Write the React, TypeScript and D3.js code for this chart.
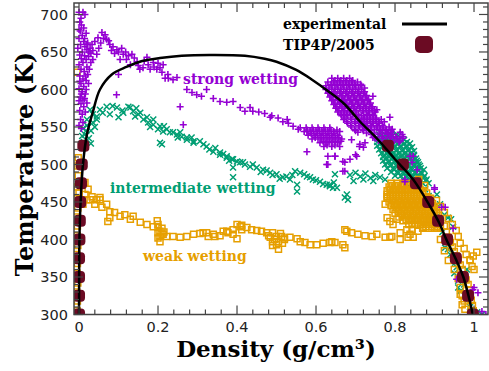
import React from "react";
import * as d3 from "d3";

type P = [number, number];

const xTickValues = [0, 0.2, 0.4, 0.6, 0.8, 1];
const xTickLabels = ["0", "0.2", "0.4", "0.6", "0.8", "1"];
const yTickValues = [300, 350, 400, 450, 500, 550, 600, 650, 700];
const yTickLabels = ["300", "350", "400", "450", "500", "550", "600", "650", "700"];

const experimental: P[] = [
  [0.0, 300], [0.0003, 350], [0.001, 400], [0.004, 450], [0.01, 500], [0.02, 540], [0.035, 570],
  [0.053, 600], [0.083, 620], [0.12, 630], [0.16, 638], [0.205, 642], [0.26, 645], [0.33, 646],
  [0.42, 645], [0.47, 641], [0.5, 637], [0.55, 626], [0.59, 613], [0.63, 598], [0.673, 580],
  [0.71, 558], [0.757, 533], [0.8, 507], [0.846, 480], [0.889, 444], [0.912, 422], [0.93, 400],
  [0.953, 375], [0.973, 350], [0.986, 325], [0.997, 300],
];

const tip4pVapor: P[] = [
  [0.0, 300], [0.0, 325], [0.0, 350], [0.0, 375], [0.001, 400], [0.002, 425], [0.003, 450],
  [0.005, 475], [0.007, 500], [0.011, 525],
];
const tip4pLiquid: P[] = [
  [0.997, 300], [0.985, 325], [0.972, 350], [0.954, 375], [0.932, 400], [0.909, 425],
  [0.884, 450], [0.853, 475], [0.82, 500], [0.782, 525],
];

const strongWetting: P[] = [
  [0.0, 703], [0.01, 703], [0.002, 690], [0.006, 686], [0.003, 678], [0.008, 672], [0.0, 668], [0.012, 664],
  [0.004, 660], [0.015, 657], [-0.003, 655], [0.02, 653], [0.008, 650], [0.025, 650], [0.002, 646], [0.014, 645],
  [0.03, 648], [0.006, 641], [0.018, 640], [0.01, 636], [0.0, 633], [0.02, 630], [0.005, 627], [0.013, 624],
  [0.022, 620], [0.002, 618], [0.01, 614], [0.018, 612], [0.005, 608], [0.012, 604], [0.0, 601], [0.008, 597],
  [0.016, 594], [0.003, 590], [0.01, 586], [0.005, 581], [0.012, 577], [0.002, 572], [0.008, 567], [0.004, 560],
  [0.0, 552],
  [0.015, 700], [0.005, 695], [0.012, 682], [0.018, 675], [0.0, 680], [0.014, 668], [0.022, 662], [0.028, 655],
  [0.035, 652], [0.024, 644], [0.03, 636], [0.026, 627], [0.016, 618], [0.024, 608], [0.002, 611], [0.018, 600],
  [0.006, 594], [0.014, 588], [0.02, 582], [0.0, 585], [0.016, 570], [0.01, 556], [0.006, 548],
  [0.02, 660], [0.033, 660], [0.04, 664], [0.048, 669], [0.058, 676], [0.066, 673], [0.07, 667], [0.035, 640],
  [0.045, 647], [0.078, 660], [0.086, 657], [0.096, 653], [0.104, 640], [0.112, 647], [0.12, 640], [0.13, 633],
  [0.134, 647], [0.147, 637], [0.154, 627], [0.162, 629], [0.18, 627], [0.188, 636], [0.197, 627], [0.205, 629],
  [0.213, 633], [0.172, 643], [0.1, 620], [0.095, 593], [0.256, 577], [0.264, 553],
  [0.05, 655], [0.055, 662], [0.062, 668], [0.075, 665], [0.082, 652], [0.09, 648], [0.1, 650], [0.108, 655],
  [0.118, 650], [0.125, 645], [0.14, 642], [0.15, 632], [0.165, 638], [0.175, 633], [0.19, 630], [0.2, 635],
  [0.21, 623], [0.225, 620],
  [0.218, 615], [0.226, 615], [0.238, 613], [0.248, 616], [0.273, 600], [0.286, 596], [0.298, 593], [0.31, 591],
  [0.323, 600], [0.34, 588], [0.357, 584], [0.374, 583], [0.39, 584], [0.408, 576], [0.42, 571], [0.433, 576],
  [0.44, 571], [0.455, 570], [0.47, 568], [0.484, 563], [0.488, 565], [0.504, 562], [0.516, 557], [0.527, 560],
  [0.53, 555], [0.542, 551], [0.555, 547], [0.56, 549], [0.577, 544],
  [0.575, 549], [0.59, 549], [0.605, 549], [0.62, 549], [0.635, 549],
  [0.57, 544], [0.585, 544], [0.6, 544], [0.615, 544], [0.63, 544], [0.645, 544], [0.66, 544],
  [0.58, 539], [0.595, 539], [0.61, 539], [0.625, 539], [0.64, 539], [0.655, 539],
  [0.59, 534], [0.605, 534], [0.62, 534], [0.635, 534], [0.65, 534], [0.665, 534],
  [0.61, 529], [0.625, 529], [0.64, 529], [0.655, 529],
  [0.62, 524], [0.64, 524], [0.66, 524],
  [0.578, 546], [0.593, 546], [0.608, 546], [0.623, 546], [0.638, 546], [0.653, 546],
  [0.588, 541], [0.603, 541], [0.618, 541], [0.633, 541], [0.648, 541],
  [0.598, 536], [0.613, 536], [0.628, 536], [0.643, 536], [0.658, 536],
  [0.618, 531], [0.633, 531], [0.648, 531], [0.663, 531],
  [0.628, 526], [0.648, 526],
  [0.577, 517], [0.63, 511], [0.648, 511], [0.673, 503], [0.63, 500], [0.673, 491], [0.7, 513], [0.71, 524],
  [0.724, 529], [0.69, 533], [0.706, 543], [0.627, 500],
  [0.64, 615], [0.655, 615], [0.67, 615], [0.685, 615],
  [0.63, 610], [0.645, 610], [0.66, 610], [0.675, 610], [0.69, 610], [0.705, 610],
  [0.625, 605], [0.64, 605], [0.655, 605], [0.67, 605], [0.685, 605], [0.7, 605], [0.715, 605],
  [0.625, 600], [0.64, 600], [0.655, 600], [0.67, 600], [0.685, 600], [0.7, 600], [0.715, 600],
  [0.63, 595], [0.645, 595], [0.66, 595], [0.675, 595], [0.69, 595], [0.705, 595], [0.72, 595],
  [0.635, 590], [0.65, 590], [0.665, 590], [0.68, 590], [0.695, 590], [0.71, 590], [0.725, 590],
  [0.64, 585], [0.655, 585], [0.67, 585], [0.685, 585], [0.7, 585], [0.715, 585], [0.73, 585],
  [0.645, 580], [0.66, 580], [0.675, 580], [0.69, 580], [0.705, 580], [0.72, 580], [0.735, 580],
  [0.65, 575], [0.665, 575], [0.68, 575], [0.695, 575], [0.71, 575], [0.725, 575], [0.74, 575],
  [0.655, 570], [0.67, 570], [0.685, 570], [0.7, 570], [0.72, 570], [0.735, 570], [0.75, 570],
  [0.665, 565], [0.68, 565], [0.7, 565], [0.715, 565], [0.73, 565], [0.745, 565],
  [0.67, 560], [0.69, 560], [0.705, 560], [0.72, 560], [0.735, 560], [0.75, 560], [0.765, 560],
  [0.68, 555], [0.7, 555], [0.715, 555], [0.73, 555], [0.745, 555], [0.76, 555],
  [0.69, 550], [0.71, 550], [0.725, 550], [0.74, 550], [0.755, 550], [0.77, 550], [0.785, 550],
  [0.7, 545], [0.72, 545], [0.74, 545], [0.76, 545], [0.775, 545], [0.79, 545],
  [0.74, 540], [0.76, 540], [0.78, 540], [0.795, 540],
  [0.75, 535], [0.77, 535], [0.79, 535], [0.805, 535], [0.82, 535],
  [0.77, 530], [0.79, 530], [0.81, 530],
  [0.648, 612], [0.663, 612], [0.678, 612], [0.693, 612],
  [0.638, 607], [0.653, 607], [0.668, 607], [0.683, 607], [0.698, 607], [0.713, 607],
  [0.633, 602], [0.648, 602], [0.663, 602], [0.678, 602], [0.693, 602], [0.708, 602], [0.723, 602],
  [0.633, 597], [0.648, 597], [0.663, 597], [0.678, 597], [0.693, 597], [0.708, 597], [0.723, 597],
  [0.638, 592], [0.653, 592], [0.668, 592], [0.683, 592], [0.698, 592], [0.713, 592], [0.728, 592],
  [0.643, 587], [0.658, 587], [0.673, 587], [0.688, 587], [0.703, 587], [0.718, 587], [0.733, 587],
  [0.648, 582], [0.663, 582], [0.678, 582], [0.693, 582], [0.708, 582], [0.723, 582], [0.738, 582],
  [0.653, 577], [0.668, 577], [0.683, 577], [0.698, 577], [0.713, 577], [0.728, 577], [0.743, 577],
  [0.658, 572], [0.673, 572], [0.688, 572], [0.703, 572], [0.718, 572], [0.733, 572], [0.748, 572],
  [0.663, 567], [0.678, 567], [0.693, 567], [0.708, 567], [0.728, 567], [0.743, 567],
  [0.673, 562], [0.688, 562], [0.708, 562], [0.723, 562], [0.738, 562], [0.753, 562],
  [0.678, 557], [0.698, 557], [0.713, 557], [0.728, 557], [0.743, 557], [0.758, 557], [0.773, 557],
  [0.688, 552], [0.708, 552], [0.723, 552], [0.738, 552], [0.753, 552], [0.768, 552],
  [0.698, 547], [0.718, 547], [0.733, 547], [0.748, 547], [0.763, 547], [0.778, 547], [0.793, 547],
  [0.728, 542], [0.748, 542], [0.768, 542], [0.783, 542],
  [0.748, 537], [0.768, 537], [0.788, 537], [0.803, 537],
  [0.758, 532], [0.778, 532], [0.798, 532], [0.813, 532],
  [0.787, 563], [0.813, 543], [0.82, 537], [0.744, 591], [0.754, 573], [0.72, 560], [0.744, 536], [0.711, 527],
  [0.72, 523], [0.703, 511], [0.686, 507], [0.668, 504], [0.648, 511], [0.846, 511], [0.856, 493], [0.79, 543],
  [0.818, 540], [0.838, 511], [0.843, 503], [0.825, 480],
  [0.668, 491], [0.825, 477], [0.9, 467], [0.918, 443], [0.947, 415], [0.956, 347], [1.0, 336], [1.01, 329],
  [1.03, 300], [0.9, 469], [0.927, 443], [0.997, 333], [1.02, 304],
];

const intermediateWetting: P[] = [
  [0.01, 548], [0.02, 552], [0.015, 540], [0.03, 545], [0.025, 535], [0.035, 556], [0.012, 530], [0.04, 550],
  [0.03, 528], [0.045, 560], [0.02, 560], [0.008, 538], [0.018, 545], [0.01, 525],
  [0.028, 573], [0.035, 567], [0.045, 564], [0.053, 573], [0.06, 569], [0.07, 577], [0.078, 567], [0.085, 578],
  [0.096, 576], [0.1, 563], [0.112, 569], [0.125, 577], [0.13, 576], [0.137, 571], [0.142, 564], [0.15, 567],
  [0.155, 569], [0.163, 560], [0.172, 563], [0.175, 556], [0.188, 553], [0.188, 560], [0.2, 547], [0.205, 551],
  [0.213, 544], [0.222, 547], [0.23, 543], [0.238, 543], [0.248, 540], [0.256, 543], [0.26, 537], [0.273, 533],
  [0.273, 536], [0.29, 529], [0.29, 531], [0.306, 531], [0.323, 524], [0.34, 517], [0.357, 516], [0.357, 513],
  [0.374, 511], [0.374, 509], [0.387, 507], [0.39, 507], [0.4, 504], [0.408, 503], [0.415, 503], [0.433, 497],
  [0.45, 496], [0.466, 493], [0.484, 489], [0.5, 487], [0.516, 483], [0.534, 480], [0.547, 491], [0.56, 489],
  [0.577, 484], [0.592, 480], [0.61, 477], [0.627, 473], [0.643, 469], [0.552, 473], [0.552, 464], [0.205, 529],
  [0.21, 527], [0.39, 483], [0.39, 496],
  [0.11, 572], [0.145, 575], [0.18, 550], [0.215, 551], [0.25, 536], [0.285, 536], [0.315, 527], [0.33, 520],
  [0.345, 522], [0.365, 514], [0.38, 505], [0.42, 500], [0.44, 500], [0.46, 490], [0.475, 492], [0.49, 486],
  [0.508, 481], [0.525, 484], [0.54, 486], [0.57, 487], [0.585, 483], [0.6, 479], [0.618, 474], [0.635, 471],
  [0.648, 487], [0.635, 473], [0.645, 476], [0.653, 469], [0.673, 456], [0.678, 460], [0.681, 453], [0.686, 486],
  [0.7, 489], [0.712, 484], [0.725, 488], [0.738, 482], [0.75, 486], [0.762, 483], [0.775, 480], [0.695, 478],
  [0.72, 480], [0.745, 478],
  [0.76, 540], [0.775, 540], [0.79, 540], [0.805, 540],
  [0.755, 535], [0.77, 535], [0.785, 535], [0.8, 535], [0.815, 535],
  [0.755, 530], [0.77, 530], [0.785, 530], [0.8, 530], [0.815, 530], [0.83, 530],
  [0.755, 525], [0.77, 525], [0.785, 525], [0.8, 525], [0.815, 525], [0.83, 525],
  [0.76, 520], [0.775, 520], [0.79, 520], [0.805, 520], [0.82, 520], [0.835, 520],
  [0.765, 515], [0.78, 515], [0.795, 515], [0.81, 515], [0.825, 515], [0.84, 515],
  [0.77, 510], [0.785, 510], [0.8, 510], [0.815, 510], [0.83, 510], [0.845, 510],
  [0.77, 505], [0.785, 505], [0.8, 505], [0.815, 505], [0.83, 505], [0.845, 505], [0.855, 505],
  [0.775, 500], [0.79, 500], [0.805, 500], [0.82, 500], [0.835, 500], [0.85, 500], [0.86, 500],
  [0.78, 495], [0.795, 495], [0.81, 495], [0.825, 495], [0.84, 495], [0.855, 495], [0.865, 495],
  [0.79, 490], [0.805, 490], [0.82, 490], [0.835, 490], [0.85, 490], [0.865, 490],
  [0.8, 485], [0.815, 485], [0.83, 485], [0.845, 485], [0.86, 485], [0.875, 485],
  [0.82, 480], [0.835, 480], [0.85, 480], [0.865, 480], [0.88, 480],
  [0.84, 475], [0.855, 475], [0.87, 475], [0.885, 475],
  [0.763, 538], [0.778, 538], [0.793, 538], [0.808, 538],
  [0.763, 533], [0.778, 533], [0.793, 533], [0.808, 533], [0.823, 533],
  [0.763, 528], [0.778, 528], [0.793, 528], [0.808, 528], [0.823, 528], [0.838, 528],
  [0.768, 523], [0.783, 523], [0.798, 523], [0.813, 523], [0.828, 523], [0.843, 523],
  [0.773, 518], [0.788, 518], [0.803, 518], [0.818, 518], [0.833, 518], [0.848, 518],
  [0.773, 513], [0.788, 513], [0.803, 513], [0.818, 513], [0.833, 513], [0.848, 513],
  [0.778, 508], [0.793, 508], [0.808, 508], [0.823, 508], [0.838, 508], [0.853, 508],
  [0.783, 503], [0.798, 503], [0.813, 503], [0.828, 503], [0.843, 503], [0.858, 503],
  [0.788, 498], [0.803, 498], [0.818, 498], [0.833, 498], [0.848, 498], [0.863, 498],
  [0.798, 493], [0.813, 493], [0.828, 493], [0.843, 493], [0.858, 493], [0.873, 493],
  [0.808, 488], [0.823, 488], [0.838, 488], [0.853, 488], [0.868, 488],
  [0.828, 483], [0.843, 483], [0.858, 483], [0.873, 483],
  [0.848, 478], [0.863, 478], [0.878, 478],
  [0.876, 467], [0.885, 458], [0.892, 450], [0.9, 444], [0.906, 460], [0.914, 447], [0.896, 436], [0.905, 430],
  [0.915, 425], [0.925, 433], [0.934, 429], [0.942, 427], [0.947, 417], [0.92, 410], [0.93, 398], [0.927, 389],
  [0.934, 387], [0.94, 380], [0.952, 369], [0.956, 363], [0.95, 355], [0.96, 345], [0.96, 336], [0.965, 331],
  [0.982, 360], [0.975, 340], [0.985, 320], [0.99, 310], [1.008, 303], [1.02, 300], [0.995, 302],
];

const weakWetting: P[] = [
  [-0.005, 305], [-0.004, 318], [-0.006, 330], [-0.003, 342], [-0.005, 355], [-0.004, 368], [-0.006, 380],
  [-0.003, 392], [-0.005, 405], [-0.004, 418], [-0.006, 430], [-0.003, 442], [-0.005, 455], [0.0, 462],
  [-0.004, 470], [-0.002, 485], [-0.003, 498], [-0.002, 509], [-0.005, 623],
  [0.008, 473], [0.015, 476], [0.023, 467], [0.015, 460], [0.02, 453], [0.033, 457], [0.045, 453], [0.053, 456],
  [0.01, 447], [0.028, 453], [0.04, 447], [0.053, 453], [0.058, 443], [0.07, 447], [0.078, 437], [0.09, 436],
  [0.104, 431], [0.116, 433], [0.078, 429], [0.13, 427], [0.137, 431], [0.155, 423], [0.172, 420], [0.188, 417],
  [0.2, 416], [0.205, 411], [0.205, 404], [0.205, 397], [0.213, 407], [0.222, 404], [0.238, 404], [0.256, 403],
  [0.273, 404], [0.29, 407], [0.306, 408], [0.323, 409], [0.34, 407], [0.357, 405], [0.374, 411], [0.39, 413],
  [0.408, 417], [0.073, 424],
  [0.2, 420], [0.21, 407], [0.2, 402], [0.21, 415], [0.215, 410], [0.2, 409], [0.198, 425],
  [0.314, 409], [0.327, 404], [0.344, 404], [0.365, 411], [0.377, 409], [0.39, 407], [0.4, 401], [0.4, 420],
  [0.412, 419], [0.412, 413], [0.425, 416], [0.437, 413], [0.45, 412], [0.462, 411], [0.475, 409], [0.484, 403],
  [0.49, 397], [0.5, 393], [0.505, 387], [0.513, 404], [0.52, 400], [0.534, 403], [0.552, 401], [0.56, 397],
  [0.572, 396], [0.585, 393], [0.602, 393], [0.618, 395], [0.635, 396], [0.648, 396],
  [0.48, 405], [0.49, 409], [0.495, 400], [0.5, 404], [0.505, 397], [0.51, 408], [0.515, 395], [0.52, 402],
  [0.49, 392],
  [0.64, 397], [0.668, 393], [0.673, 389], [0.673, 413], [0.678, 411], [0.69, 409], [0.706, 407], [0.724, 405],
  [0.742, 404], [0.754, 407], [0.775, 403], [0.787, 403], [0.792, 404], [0.813, 400], [0.833, 403], [0.843, 413],
  [0.858, 411], [0.846, 403], [0.838, 407], [0.83, 413], [0.813, 409], [0.871, 416],
  [0.775, 447], [0.78, 457], [0.78, 429], [0.787, 424], [0.795, 420], [0.805, 427],
  [0.79, 475], [0.805, 475], [0.82, 475], [0.835, 475], [0.85, 475],
  [0.785, 470], [0.8, 470], [0.815, 470], [0.83, 470], [0.845, 470], [0.86, 470],
  [0.78, 465], [0.795, 465], [0.81, 465], [0.825, 465], [0.84, 465], [0.855, 465], [0.87, 465],
  [0.78, 460], [0.795, 460], [0.81, 460], [0.825, 460], [0.84, 460], [0.855, 460], [0.87, 460],
  [0.78, 455], [0.795, 455], [0.81, 455], [0.825, 455], [0.84, 455], [0.855, 455], [0.87, 455], [0.885, 455],
  [0.785, 450], [0.8, 450], [0.815, 450], [0.83, 450], [0.845, 450], [0.86, 450], [0.875, 450], [0.89, 450],
  [0.79, 445], [0.805, 445], [0.82, 445], [0.835, 445], [0.85, 445], [0.865, 445], [0.88, 445], [0.895, 445],
  [0.795, 440], [0.81, 440], [0.825, 440], [0.84, 440], [0.855, 440], [0.87, 440], [0.885, 440], [0.9, 440],
  [0.8, 435], [0.815, 435], [0.83, 435], [0.845, 435], [0.86, 435], [0.875, 435], [0.89, 435], [0.905, 435],
  [0.81, 430], [0.825, 430], [0.84, 430], [0.855, 430], [0.87, 430], [0.885, 430], [0.9, 430],
  [0.82, 425], [0.835, 425], [0.85, 425], [0.865, 425], [0.88, 425], [0.895, 425], [0.91, 425],
  [0.835, 420], [0.85, 420], [0.865, 420], [0.88, 420], [0.895, 420], [0.91, 420],
  [0.87, 415], [0.885, 415], [0.9, 415], [0.915, 415],
  [0.793, 472], [0.808, 472], [0.823, 472], [0.838, 472], [0.853, 472],
  [0.788, 467], [0.803, 467], [0.818, 467], [0.833, 467], [0.848, 467], [0.863, 467],
  [0.788, 462], [0.803, 462], [0.818, 462], [0.833, 462], [0.848, 462], [0.863, 462],
  [0.788, 457], [0.803, 457], [0.818, 457], [0.833, 457], [0.848, 457], [0.863, 457], [0.878, 457],
  [0.793, 452], [0.808, 452], [0.823, 452], [0.838, 452], [0.853, 452], [0.868, 452], [0.883, 452],
  [0.798, 447], [0.813, 447], [0.828, 447], [0.843, 447], [0.858, 447], [0.873, 447], [0.888, 447],
  [0.803, 442], [0.818, 442], [0.833, 442], [0.848, 442], [0.863, 442], [0.878, 442], [0.893, 442],
  [0.808, 437], [0.823, 437], [0.838, 437], [0.853, 437], [0.868, 437], [0.883, 437], [0.898, 437],
  [0.818, 432], [0.833, 432], [0.848, 432], [0.863, 432], [0.878, 432], [0.893, 432],
  [0.828, 427], [0.843, 427], [0.858, 427], [0.873, 427], [0.888, 427], [0.903, 427],
  [0.843, 422], [0.858, 422], [0.873, 422], [0.888, 422], [0.903, 422],
  [0.878, 417], [0.893, 417], [0.908, 417],
  [0.86, 480], [0.875, 472], [0.88, 462], [0.89, 455], [0.895, 448], [0.905, 440], [0.91, 432], [0.915, 425],
  [0.925, 418], [0.93, 410], [0.935, 403], [0.94, 396], [0.945, 390], [0.95, 384], [0.955, 378], [0.96, 372],
  [0.965, 366], [0.97, 360], [0.975, 353], [0.98, 346], [0.985, 340], [0.988, 333], [0.99, 326], [0.993, 319],
  [0.996, 312], [0.998, 305], [1.0, 300],
  [0.905, 452], [0.915, 444], [0.925, 436], [0.935, 428], [0.945, 420], [0.955, 412], [0.96, 404], [0.965, 395],
  [0.975, 388], [0.98, 380], [0.99, 372], [1.0, 360], [0.995, 364],
  [0.89, 430], [0.905, 415], [0.915, 400], [0.925, 385], [0.935, 372], [0.95, 360], [0.96, 348], [0.965, 336],
  [0.97, 325], [0.975, 318], [0.965, 327], [0.97, 313], [0.977, 307], [0.99, 373], [1.007, 383], [0.998, 378],
];

const seriesLabels = ["strong wetting", "intermediate wetting", "weak wetting"];
const legendLabels = ["experimental", "TIP4P/2005"];

const W = 489;
const H = 371;
const left = 74, right = 488, top = 3, bottom = 314.5;

const COLORS = { strong: "#9400d3", inter: "#009e73", weak: "#e69f00", tip: "#6b0b23", line: "#000" };

export default function App() {
  const x = d3.scaleLinear().domain([-0.0127, 1.0354]).range([left, right]);
  const y = d3.scaleLinear().domain([300, 715.3]).range([bottom, top]);
  const line = d3.line<P>().x((d) => x(d[0])).y((d) => y(d[1])).curve(d3.curveCatmullRom.alpha(0.5));

  const xMinor = d3.range(0, 1.0001, 0.04);
  const yMinor = d3.range(300, 711, 10);
  const axisColor = "#444";
  const serif = "'DejaVu Serif', serif";
  const sans = "'DejaVu Sans', sans-serif";

  return (
    <svg width={W} height={H} style={{ position: "absolute", left: 0, top: 0, background: "#fff" }}>
      <defs>
        <clipPath id="plot">
          <rect x={left} y={top} width={right - left} height={bottom - top} />
        </clipPath>
      </defs>
      <g clipPath="url(#plot)">
        {intermediateWetting.map((p, i) => (
          <path key={"g" + i} transform={`translate(${x(p[0])},${y(p[1])})`} d="M-3,-3L3,3M-3,3L3,-3"
            stroke={COLORS.inter} strokeWidth={1.5} fill="none" />
        ))}
        {weakWetting.map((p, i) => (
          <rect key={"o" + i} x={x(p[0]) - 3} y={y(p[1]) - 3} width={6} height={6}
            stroke={COLORS.weak} strokeWidth={1.5} fill="none" />
        ))}
        {strongWetting.map((p, i) => (
          <path key={"p" + i} transform={`translate(${x(p[0])},${y(p[1])})`} d="M-3.5,0H3.5M0,-3.5V3.5"
            stroke={COLORS.strong} strokeWidth={1.6} fill="none" />
        ))}
        {[...tip4pVapor, ...tip4pLiquid].map((p, i) => (
          <rect key={"t" + i} x={x(p[0]) - 6} y={y(p[1]) - 6} width={12} height={12} rx={4}
            fill={COLORS.tip} />
        ))}
        <path d={line(experimental) || ""} stroke={COLORS.line} strokeWidth={2.5} fill="none" />
      </g>

      <rect x={left} y={top} width={right - left} height={bottom - top} fill="none" stroke={axisColor} strokeWidth={1.5} />
      {xMinor.map((v, i) => {
        const major = Math.abs(v / 0.2 - Math.round(v / 0.2)) < 1e-6;
        const len = major ? 9 : 5;
        return (
          <g key={"xt" + i} stroke={axisColor} strokeWidth={1.2}>
            <line x1={x(v)} x2={x(v)} y1={bottom} y2={bottom - len} />
            <line x1={x(v)} x2={x(v)} y1={top} y2={top + len} />
          </g>
        );
      })}
      {yMinor.map((v, i) => {
        const major = v % 50 === 0;
        const len = major ? 9 : 5;
        return (
          <g key={"yt" + i} stroke={axisColor} strokeWidth={1.2}>
            <line x1={left} x2={left + len} y1={y(v)} y2={y(v)} />
            <line x1={right} x2={right - len} y1={y(v)} y2={y(v)} />
          </g>
        );
      })}
      {xTickValues.map((v, i) => (
        <text key={"xl" + i} x={x(v)} y={332} textAnchor="middle" fontFamily={sans} fontSize={14.5} fill="#222">
          {xTickLabels[i]}
        </text>
      ))}
      {yTickValues.map((v, i) => (
        <text key={"yl" + i} x={68} y={y(v)} dy="0.36em" textAnchor="end" fontFamily={sans} fontSize={14.5} fill="#222">
          {yTickLabels[i]}
        </text>
      ))}

      <text x={276} y={357} textAnchor="middle" fontFamily={serif} fontWeight="bold" fontSize={23} fill="#000">
        Density (g/cm³)
      </text>
      <text transform="translate(33,164) rotate(-90)" textAnchor="middle" fontFamily={serif} fontWeight="bold" fontSize={24} fill="#000">
        Temperature (K)
      </text>

      <text x={183} y={84} fontFamily={serif} fontWeight="bold" fontSize={14} fill={COLORS.strong}>{seriesLabels[0]}</text>
      <text x={110} y={193} fontFamily={serif} fontWeight="bold" fontSize={14} fill={COLORS.inter}>{seriesLabels[1]}</text>
      <text x={143} y={261} fontFamily={serif} fontWeight="bold" fontSize={14} fill={COLORS.weak}>{seriesLabels[2]}</text>

      <text x={283} y={29} fontFamily={serif} fontWeight="bold" fontSize={14} fill="#000">{legendLabels[0]}</text>
      <line x1={402} x2={447} y1={24} y2={24} stroke="#000" strokeWidth={3} />
      <text x={283} y={50} fontFamily={serif} fontWeight="bold" fontSize={14} fill="#000">{legendLabels[1]}</text>
      <rect x={415} y={36} width={18} height={17} rx={5} fill={COLORS.tip} />
    </svg>
  );
}
